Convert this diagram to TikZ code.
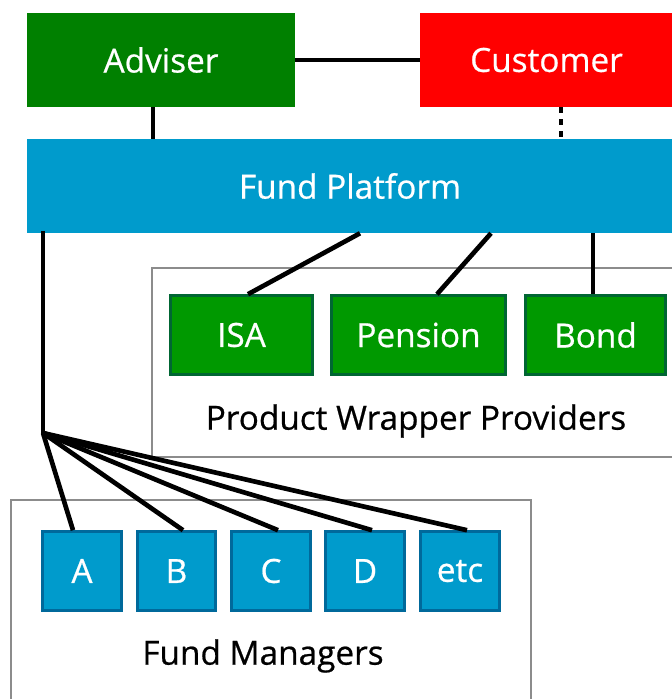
\documentclass[tikz,border=0pt]{standalone}
\usepackage{fontspec}
\setmainfont{Open Sans}[UprightFeatures={FakeBold=0.6}]
\usetikzlibrary{calc}

\definecolor{advgreen}{RGB}{0,128,0}
\definecolor{custred}{RGB}{255,0,0}
\definecolor{platblue}{RGB}{0,155,204}
\definecolor{fundedge}{RGB}{0,105,155}
\definecolor{wrapgreen}{RGB}{0,153,0}
\definecolor{wrapedge}{RGB}{0,102,51}

\begin{document}
\begin{tikzpicture}[x=0.75pt, y=-0.75pt,
    bigbox/.style={inner sep=0pt, text=white, font=\fontsize{25}{29}\selectfont},
    smallbox/.style={draw, line width=2.2pt, inner sep=0pt, text=white, font=\fontsize{25}{29}\selectfont},
    fundbox/.style={smallbox, fill=platblue, draw=fundedge, minimum width=59pt, minimum height=59pt},
    wrapbox/.style={smallbox, fill=wrapgreen, draw=wrapedge, minimum height=59pt},
    link/.style={line width=3.5pt},
    group/.style={draw=black!45, line width=1.2pt},
    grouplabel/.style={font=\fontsize{25}{29}\selectfont}]
    \useasboundingbox (0,0) rectangle (671,699);

    % Groups (outer frames)
    \draw[group] (152,268) rectangle (680,457);
    \draw[group] (11,500) rectangle (531,710);
    \node[grouplabel] (wraplabel) at (416,421) {Product Wrapper Providers};
    \node[grouplabel] (fmlabel) at (263,656) {Fund Managers};

    % Top row
    \node[bigbox, fill=advgreen, minimum width=201pt, minimum height=70.5pt] (adviser) at (161,60) {Adviser};
    \node[bigbox, fill=custred, minimum width=190pt, minimum height=70.5pt] (customer) at (546.5,60) {Customer};
    \node[bigbox, fill=platblue, minimum width=485pt, minimum height=70.5pt] (platform) at (350,186) {Fund Platform};

    % Wrappers
    \node[wrapbox, minimum width=106.5pt] (isa) at (241.5,335) {ISA};
    \node[wrapbox, minimum width=130.5pt] (pension) at (418.5,335) {Pension};
    \node[wrapbox, minimum width=105pt] (bond) at (595.5,335) {Bond};

    % Fund managers
    \foreach \nm/\lbl/\cx in {fmA/A/82, fmB/B/176.5, fmC/C/271, fmD/D/365, fmE/etc/460}
        \node[fundbox] (\nm) at (\cx,571) {\lbl};

    % Connectors
    \draw[link] (adviser.east) -- (customer.west);
    \draw[link] (adviser.south -| 153,0) -- (platform.north -| 153,0);
    \draw[link, dash pattern=on 4pt off 5pt] (customer.south -| 561,0) -- (platform.north -| 561,0);
    \draw[link] (platform.south -| 360,0) -- (isa.north -| 248,0);
    \draw[link] (platform.south -| 491,0) -- (pension.north -| 437,0);
    \draw[link] (platform.south -| 593,0) -- (bond.north -| 593,0);

    \coordinate (fan) at (43,433);
    \draw[link, line cap=rect] (platform.south -| fan) -- (fan);
    \foreach \nm/\tx in {fmA/73, fmB/183, fmC/278, fmD/372, fmE/467}
        \draw[link] (fan) -- (\nm.north -| \tx,0);
\end{tikzpicture}
\end{document}
